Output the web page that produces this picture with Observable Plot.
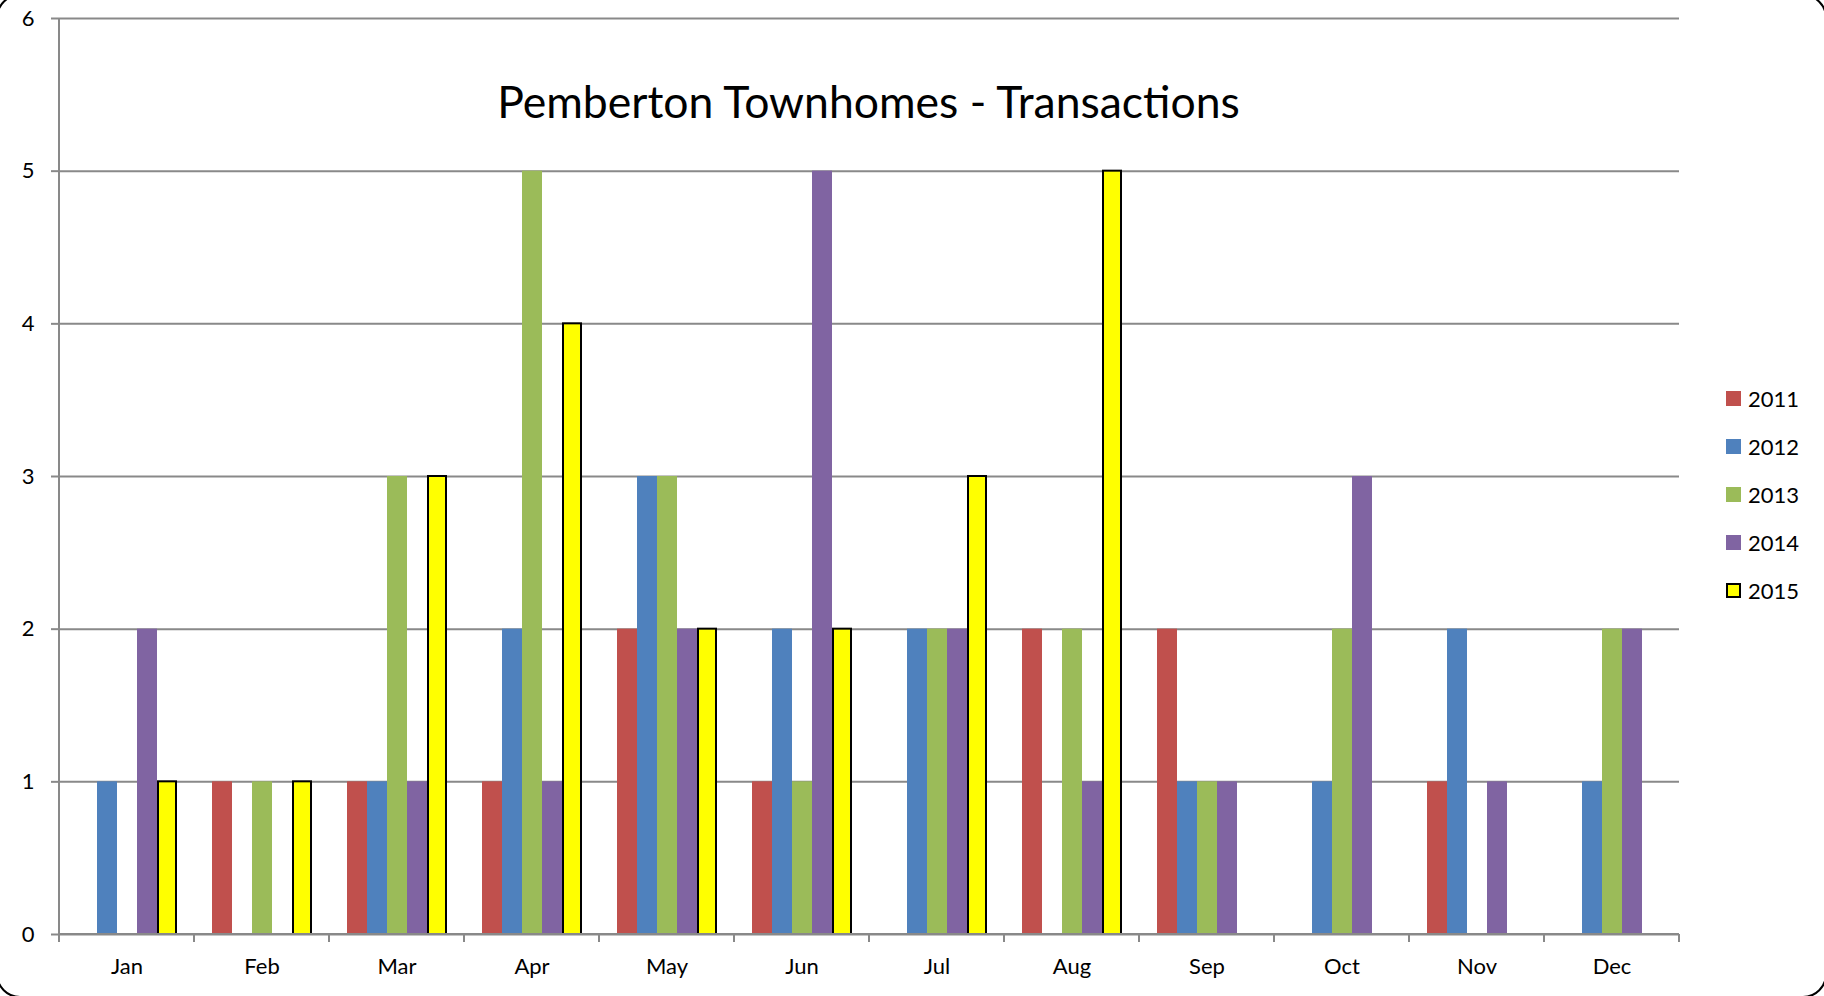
<!DOCTYPE html>
<html><head><meta charset="utf-8">
<script src="https://cdn.jsdelivr.net/npm/d3@7"></script>
<script src="https://cdn.jsdelivr.net/npm/@observablehq/plot@0.6"></script>
<style>
body{margin:0;background:#fff;overflow:hidden;font-family:Lato,sans-serif}
#wrap{position:relative;width:1824px;height:996px;overflow:hidden}
#chart{position:absolute;left:0;top:0}
#title{position:absolute;left:54px;width:1629px;top:74px;text-align:center;font-size:44.5px;color:#000;white-space:nowrap}
#legend{position:absolute;left:1726px;top:374px}
.item{display:flex;align-items:center;height:48px;font-size:22px;color:#000}
.sw{width:15px;height:15px;margin-right:7px;box-sizing:border-box}
#border{position:absolute;left:-4px;top:-6px;width:1831px;height:1004px;border:2px solid #000;border-radius:24px;pointer-events:none;box-sizing:border-box}
</style></head><body>
<div id="wrap"><div id="chart"></div><div id="title"></div><div id="legend"></div><div id="border"></div></div>
<script>
const titleText = "Pemberton Townhomes - Transactions";
const months = ["Jan","Feb","Mar","Apr","May","Jun","Jul","Aug","Sep","Oct","Nov","Dec"];
const years = ["2011","2012","2013","2014","2015"];
const colors = ["#C0504D","#4F81BD","#9BBB59","#8064A2","#FFFF00"];
const v2011 = [0,1,1,1,2,1,0,2,2,0,1,0];
const v2012 = [1,0,1,2,3,2,2,0,1,1,2,1];
const v2013 = [0,1,3,5,3,1,2,2,1,2,0,2];
const v2014 = [2,0,1,1,2,5,2,1,1,3,1,2];
const v2015 = [1,1,3,4,2,2,3,5,0,0,0,0];
const yTicks = [0,1,2,3,4,5,6];

const series = [v2011, v2012, v2013, v2014, v2015];
const data = [];
years.forEach((yr, i) => months.forEach((m, j) => data.push({month: m, year: yr, value: series[i][j]})));
const shown = data.filter(d => d.value > 0);

const gridColor = "#898989";
const fontSize = 22;

const plot = Plot.plot({
  width: 1824,
  height: 996,
  marginTop: 18,
  marginBottom: 62,
  marginLeft: 54,
  marginRight: 141,
  style: {fontFamily: "Lato, sans-serif", fontSize: fontSize + "px", color: "#000", background: "transparent"},
  fx: {domain: months, padding: 0, label: null},
  x: {domain: years, paddingInner: 0, paddingOuter: 0.76, axis: null},
  y: {domain: [0, 6], label: null},
  color: {domain: years, range: colors},
  marks: [
    Plot.gridY(yTicks, {stroke: gridColor, strokeOpacity: 1, strokeWidth: 2}),
    Plot.barY(shown.filter(d => d.year !== "2015"), {fx: "month", x: "year", y: "value", fill: "year"}),
    Plot.barY(shown.filter(d => d.year === "2015"), {fx: "month", x: "year", y: "value", fill: "year", stroke: "#000", strokeWidth: 2, insetLeft: 1, insetRight: 1}),
    Plot.axisY(yTicks, {tickSize: 8, tickPadding: 17, stroke: gridColor, strokeWidth: 2, fill: "#000", fontSize: fontSize, label: null, tickFormat: d => String(d)}),
    Plot.axisFx({anchor: "bottom", tickSize: 0, tickPadding: 24, fontSize: fontSize, fill: "#000", label: null})
  ]
});
document.getElementById("chart").appendChild(plot);

// Category-boundary ticks, y axis line and baseline, from Plot's own scales
const fx = plot.scale("fx");
const ys = plot.scale("y");
const svg = d3.select(plot);
const bounds = months.map(m => fx.apply(m)).concat([fx.apply(months[months.length - 1]) + fx.bandwidth]);
const y0 = ys.apply(0), yTop = ys.apply(6);
const g = svg.append("g").attr("stroke", gridColor).attr("stroke-width", 2).attr("shape-rendering", "crispEdges");
g.append("line").attr("x1", bounds[0]).attr("x2", bounds[bounds.length - 1]).attr("y1", y0).attr("y2", y0);
g.append("line").attr("x1", bounds[0]).attr("x2", bounds[0]).attr("y1", y0 + 8).attr("y2", yTop);
bounds.forEach(b => g.append("line").attr("x1", b).attr("x2", b).attr("y1", y0).attr("y2", y0 + 8));

document.getElementById("title").textContent = titleText;
const legend = d3.select("#legend");
years.forEach((yr, i) => {
  const it = legend.append("div").attr("class", "item");
  it.append("div").attr("class", "sw").style("background", colors[i]).style("border", yr === "2015" ? "2px solid #000" : "none");
  it.append("span").text(yr);
});
</script>
</body></html>
